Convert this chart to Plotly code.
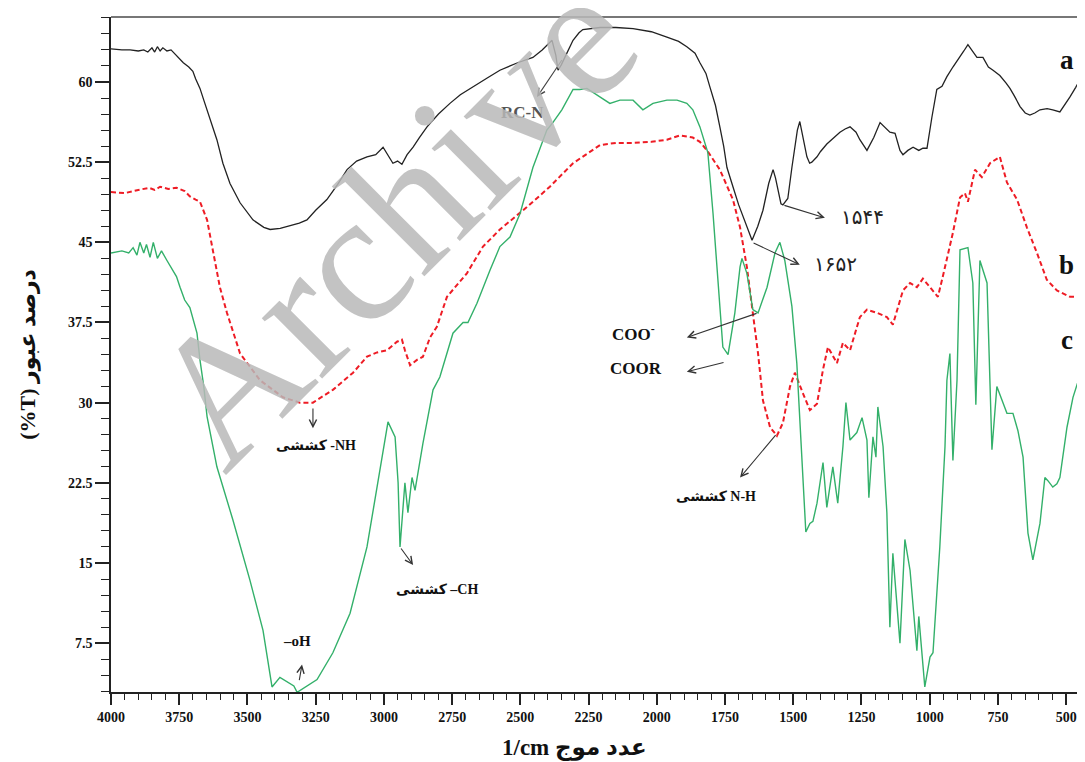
import plotly.graph_objects as go

# ---- data (wavenumber cm^-1, %T) ----
a_wn = [4000, 3960, 3930, 3900, 3880, 3865, 3850, 3840, 3830, 3820, 3810, 3795, 3780, 3765, 3750,
        3735, 3715, 3700,
        3690, 3674, 3660, 3648, 3630, 3612, 3590, 3564, 3527, 3480, 3440, 3417, 3380, 3355, 3310,
        3282, 3250, 3209, 3170, 3135, 3100, 3062, 3030, 3003, 2985, 2967, 2950, 2934, 2915, 2893,
        2870, 2842, 2800, 2758, 2720, 2674, 2620, 2575, 2510, 2454, 2420, 2384, 2370, 2362, 2350,
        2337, 2320, 2307, 2285, 2271, 2208, 2150, 2087, 2020, 1963, 1920, 1890, 1860, 1842, 1820,
        1805, 1785, 1769, 1755, 1743, 1730, 1721, 1700, 1684, 1665, 1651, 1630, 1611, 1590, 1574,
        1565, 1556, 1545, 1538, 1528, 1520, 1505, 1494, 1485, 1476, 1465, 1450, 1440, 1432, 1413,
        1400, 1377, 1350, 1329, 1310, 1292, 1270, 1256, 1230, 1205, 1182, 1165, 1146, 1127, 1109,
        1098, 1080, 1061, 1040, 1025, 1010, 992, 974, 955, 937, 915, 889, 875, 860, 845,
        827, 805, 785, 768, 743, 720, 706, 690, 669, 650, 633, 615, 596, 570, 549,
        523, 500, 486, 465, 450, 431]
a_t = [63.1, 63.0, 63.0, 62.9, 63.0, 62.8, 63.2, 62.8, 63.3, 62.9, 63.2, 62.9, 63.0, 62.6, 62.2,
       61.8, 61.4, 61.0,
       60.3, 59.4, 58.3, 57.4, 56.0, 54.6, 52.4, 50.5, 48.7, 47.1, 46.4, 46.2, 46.3, 46.5, 46.8,
       47.1, 48.0, 49.0, 50.4, 51.8, 52.6, 53.0, 53.2, 53.9, 53.1, 52.4, 52.6, 52.3, 53.2, 53.9,
       54.8, 55.8, 57.0, 58.0, 58.8, 59.5, 60.4, 61.1, 61.8, 62.3, 63.0, 63.9, 62.5, 61.1, 61.6,
       62.3, 63.2, 63.9, 64.6, 64.9, 65.1, 65.1, 65.0, 64.7, 64.2, 63.8, 63.3, 62.7, 61.8, 60.8,
       59.5, 57.8, 55.8, 54.0, 52.0, 50.8, 50.2, 48.5, 47.4, 46.2, 45.2, 46.5, 48.0, 50.5, 51.8,
       51.0, 49.8, 48.6, 48.5, 48.8, 49.1, 52.0, 54.1, 55.5, 56.3, 54.8, 53.0, 52.4, 52.5, 53.0,
       53.5, 54.2, 54.8, 55.3, 55.6, 55.8, 55.3, 54.6, 53.6, 54.8, 56.2, 55.8, 55.3, 55.2, 53.6,
       53.2, 53.6, 53.9, 53.6, 53.8, 53.8, 56.7, 59.3, 59.6, 60.5, 61.4, 62.3, 62.9, 63.5, 63.0,
       62.3, 62.3, 61.4, 61.1, 60.6, 59.9, 59.4, 58.7, 57.7, 57.1, 56.9, 57.1, 57.4, 57.5, 57.4,
       57.2, 58.0, 58.6, 59.5, 60.2, 60.9]

b_wn = [4000, 3950, 3900, 3860, 3840, 3820, 3790, 3760, 3730, 3711, 3690, 3674, 3648, 3626, 3601,
        3575, 3527, 3454, 3370, 3308, 3260, 3187, 3113, 3062, 3025, 2989, 2952, 2934, 2923, 2904,
        2879, 2857, 2831, 2806, 2769, 2696, 2637, 2575, 2476, 2392, 2307, 2208, 2150, 2087, 2020,
        1963, 1915, 1868, 1842, 1816, 1769, 1721, 1695, 1670, 1648, 1629, 1611, 1585, 1560, 1538,
        1512, 1494, 1465, 1439, 1413, 1391, 1373, 1355, 1340, 1318, 1292, 1256, 1230, 1193, 1157,
        1135, 1098, 1072, 1047, 1025, 999, 970, 952, 915, 889, 871, 860, 834, 809, 779,
        743, 717, 680, 644, 607, 571, 534, 486, 431]
b_t = [49.7, 49.6, 49.9, 50.1, 49.9, 50.2, 50.0, 50.1, 49.8, 49.3, 49.0, 48.8, 47.1, 44.0, 40.8,
       38.4, 34.6, 32.1, 30.5, 30.0, 30.0, 31.2, 32.8, 34.3, 34.7, 34.9, 35.7, 35.9, 34.9, 33.5,
       34.0, 34.3, 36.1, 37.1, 39.9, 42.1, 44.6, 46.2, 48.3, 50.2, 52.4, 54.1, 54.3, 54.3, 54.4,
       54.6, 55.0, 54.8, 54.4, 53.6, 51.8, 49.0, 46.4, 42.7, 38.4, 34.6, 30.2, 27.7, 26.9, 28.1,
       31.5, 32.8, 30.9, 29.3, 29.9, 33.1, 35.2, 34.3, 33.7, 35.6, 34.9, 38.0, 38.7, 38.4, 38.0,
       37.3, 40.5, 41.2, 40.8, 41.6, 40.8, 39.9, 41.8, 45.9, 49.2, 49.6, 48.8, 51.8, 51.1, 52.4,
       53.0, 50.6, 49.0, 46.4, 44.0, 41.5, 40.5, 39.9, 39.9]

c_wn = [4000, 3960, 3935, 3919, 3905, 3894, 3880, 3870, 3857, 3845, 3830, 3815, 3795, 3775, 3760,
        3747, 3730, 3711, 3685, 3674, 3660, 3648, 3612, 3553, 3491, 3443, 3410, 3381, 3355, 3330,
        3318, 3245, 3187, 3124, 3062, 3014, 2985, 2959, 2948, 2941, 2923, 2912, 2897, 2886, 2857,
        2820, 2795, 2747, 2710, 2692, 2659, 2611, 2575, 2538, 2501, 2454, 2403, 2381, 2348, 2307,
        2282, 2256, 2208, 2172, 2135, 2087, 2051, 2014, 1963, 1926, 1890, 1868, 1842, 1813, 1794,
        1776, 1758, 1739, 1714, 1695, 1688, 1670, 1648, 1629, 1596, 1567, 1549, 1531, 1505, 1487,
        1468, 1454, 1439, 1428, 1413, 1402, 1391, 1377, 1366, 1355, 1337, 1318, 1307, 1292, 1267,
        1248, 1230, 1223, 1208, 1197, 1190, 1171, 1157, 1146, 1135, 1109, 1091, 1072, 1047, 1040,
        1018, 999, 988, 963, 944, 937, 926, 915, 900, 889, 860, 842, 831, 816, 790,
        772, 754, 717, 695, 677, 658, 644, 640, 622, 596, 578, 567, 549, 534, 523,
        497, 475, 450, 431]
c_t = [44.0, 44.2, 44.0, 44.5, 43.8, 45.0, 44.0, 44.8, 43.6, 45.0, 43.5, 44.2, 43.3, 42.5, 41.8,
       40.8, 39.6, 38.9, 36.5, 34.0, 31.5, 28.7, 24.0, 19.0, 13.4, 8.7, 3.4, 4.3, 3.9, 3.5,
       2.9, 4.1, 6.6, 10.3, 16.5, 24.0, 28.2, 26.8, 22.5, 16.5, 22.5, 19.7, 23.0, 21.8, 26.2,
       31.2, 32.4, 36.5, 37.5, 37.5, 39.3, 42.4, 44.6, 45.5, 47.7, 52.0, 55.5, 56.2, 57.4, 59.3,
       59.3, 59.4, 58.6, 58.0, 58.3, 58.3, 57.4, 58.0, 58.3, 58.3, 58.0, 57.4, 55.8, 53.4, 47.7,
       41.5, 35.2, 34.5, 38.4, 42.7, 43.5, 42.1, 38.7, 38.4, 40.8, 44.0, 45.0, 43.3, 39.0, 33.7,
       24.9, 17.9, 18.7, 18.9, 20.6, 22.5, 24.4, 20.2, 22.0, 24.0, 20.6, 25.9, 30.0, 26.5, 27.2,
       28.6, 26.5, 21.1, 26.8, 24.9, 29.6, 25.9, 19.7, 9.0, 15.9, 7.5, 17.2, 14.3, 6.8, 10.0,
       3.4, 6.2, 6.6, 16.5, 25.9, 32.1, 34.6, 24.6, 32.1, 44.3, 44.5, 41.2, 29.8, 43.3, 41.2,
       25.6, 31.5, 29.0, 29.0, 27.4, 24.9, 19.7, 17.8, 15.3, 18.7, 23.0, 22.7, 22.1, 22.4, 23.0,
       27.7, 30.5, 32.5, 34.0]

x_ticks = [4000, 3750, 3500, 3250, 3000, 2750, 2500, 2250, 2000, 1750, 1500, 1250, 1000, 750, 500]
y_ticks = [7.5, 15, 22.5, 30, 37.5, 45, 52.5, 60]
y_ticktext = ["7.5", "15", "22.5", "30", "37.5", "45", "52.5", "60"]

SERIF = "Liberation Serif, Times New Roman, DejaVu Serif, serif"
MIX = "Liberation Serif, DejaVu Sans, serif"

fig = go.Figure()
fig.add_trace(go.Scatter(x=a_wn, y=a_t, mode="lines", line=dict(color="#222222", width=1.3), showlegend=False))
fig.add_trace(go.Scatter(x=b_wn, y=b_t, mode="lines", line=dict(color="#ee1c25", width=2, dash="5px,3px"), showlegend=False))
fig.add_trace(go.Scatter(x=c_wn, y=c_t, mode="lines", line=dict(color="#33b06a", width=1.4), showlegend=False))

# arrows (head at x,y ; tail at ax,ay)
arrows = [
    (2439, 58.6, 2344, 62.2, "#444444"),   # RC-N
    (1384, 47.3, 1538, 48.5, "#333333"),   # 1544
    (1476, 42.9, 1651, 45.0, "#333333"),   # 1652
    (1890, 36.1, 1629, 38.4, "#333333"),   # COO-
    (1890, 32.9, 1750, 33.8, "#333333"),   # COOR
    (3260, 27.6, 3260, 29.6, "#333333"),   # NH
    (1695, 23.0, 1560, 27.1, "#333333"),   # N-H
    (2893, 14.8, 2941, 16.5, "#333333"),   # CH
    (3300, 5.5, 3311, 3.9, "#333333"),     # OH
]
for hx, hy, tx, ty, col in arrows:
    fig.add_annotation(x=hx, y=hy, ax=tx, ay=ty, xref="x", yref="y", axref="x", ayref="y",
                       text="", showarrow=True, arrowhead=5, arrowsize=1.3, arrowwidth=1.1,
                       arrowcolor=col)

labels = [
    (2494, 57.1, "<b>RC-N</b>", 17, "#555555", SERIF),
    (1248, 47.4, "۱۵۴۴", 20, "#222222", MIX),
    (1347, 43.0, "۱۶۵۲", 20, "#222222", MIX),
    (2087, 36.5, "<b>COO<sup>-</sup></b>", 17, "#111111", SERIF),
    (2076, 33.2, "<b>COOR</b>", 17, "#111111", SERIF),
    (3249, 26.0, "<b>کششی -NH</b>", 14, "#111111", MIX),
    (1783, 21.2, "<b>کششی N-H</b>", 14, "#111111", MIX),
    (2806, 12.5, "<b>کششی –CH</b>", 14, "#111111", MIX),
    (3318, 7.7, "<b>–oH</b>", 15, "#111111", SERIF),
    (497, 62.1, "<b>a</b>", 27, "#111111", SERIF),
    (497, 42.9, "<b>b</b>", 27, "#111111", SERIF),
    (497, 35.9, "<b>c</b>", 27, "#111111", SERIF),
]
for x, y, t, s, col, fam in labels:
    fig.add_annotation(x=x, y=y, xref="x", yref="y", text=t, showarrow=False,
                       font=dict(size=s, color=col, family=fam))

# watermark
fig.add_annotation(x=0.288, y=0.70, xref="paper", yref="paper", xanchor="center", yanchor="middle",
                   text="Archive", showarrow=False, textangle=-45,
                   font=dict(size=186, color="rgba(185,185,185,0.85)", family=SERIF))

# x-axis title (sits a little left of centre in the reference)
fig.add_annotation(x=0.476, y=-0.083, xref="paper", yref="paper", xanchor="center", yanchor="middle",
                   text="<b>1/cm عدد موج</b>", showarrow=False,
                   font=dict(family=MIX, size=23, color="#111"))

# top frame line
fig.add_shape(type="line", xref="paper", yref="paper", x0=0, x1=1, y0=1, y1=1,
              line=dict(color="#777777", width=2))

fig.update_xaxes(range=[4000, 431], tickvals=x_ticks, ticks="outside", ticklen=11, tickwidth=1.5,
                 tickcolor="#222", showline=True, linecolor="#222", linewidth=1.5, showgrid=False,
                 zeroline=False, tickfont=dict(family=SERIF, size=14, color="#111", weight="bold"),
                 minor=dict(dtick=50, tick0=0, ticks="outside", ticklen=6, tickcolor="#222", tickwidth=1.2))
fig.update_yaxes(range=[2.93, 66.08], tickvals=y_ticks, ticktext=y_ticktext,
                 ticks="outside", ticklen=14, tickwidth=1.5, tickcolor="#222", showline=True,
                 linecolor="#222", linewidth=1.5, showgrid=False, zeroline=False,
                 tickfont=dict(family=SERIF, size=14, color="#111", weight="bold"),
                 minor=dict(dtick=1.5, tick0=0, ticks="outside", ticklen=8, tickcolor="#222", tickwidth=1.2),
                 title=dict(text="<b>(%T) درصد عبور</b>", font=dict(family=MIX, size=22, color="#111"), standoff=26))

# page body has an 8px default margin; compensate so the plot lands where the reference has it
fig.update_layout(width=1077, height=754, margin=dict(l=103, r=0, t=9, b=70),
                  plot_bgcolor="white", paper_bgcolor="white", showlegend=False)

fig.write_html("out.html")
